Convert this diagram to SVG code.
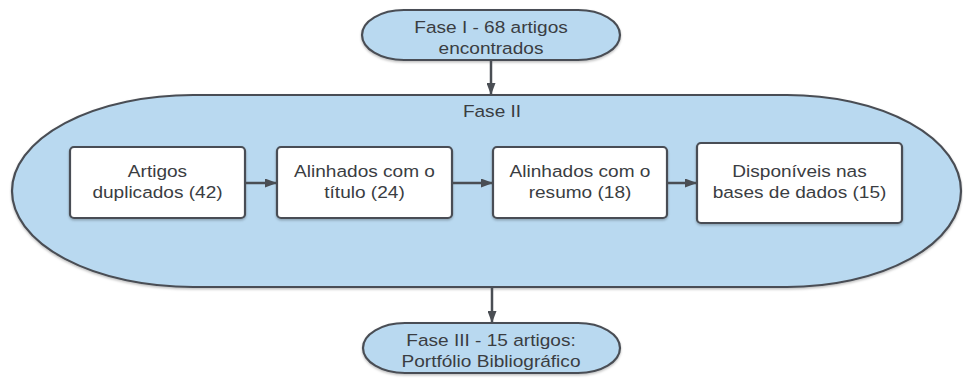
<svg xmlns="http://www.w3.org/2000/svg" width="963" height="378" viewBox="0 0 963 378">
<defs>
<style>
.term{fill:#b9d9f0;stroke:#4a4e54;stroke-width:2.2}
.box{fill:#ffffff;stroke:#4a4e54;stroke-width:2.2}
.lbl{font-family:"Liberation Sans",Arial,sans-serif;font-size:16.3px;fill:#3a3d42;text-anchor:middle}
.conn{stroke:#4a4e54;stroke-width:2.5;fill:none}
</style>
<marker id="ah" markerWidth="12" markerHeight="9" refX="12" refY="4.5" orient="auto" markerUnits="userSpaceOnUse">
<path d="M0 0 L12 4.5 L0 9 Z" fill="#4a4e54"/>
</marker>
<filter id="sh" x="-5%" y="-5%" width="110%" height="120%">
<feDropShadow dx="0" dy="1.5" stdDeviation="1.2" flood-color="#000" flood-opacity="0.25"/>
</filter>
</defs>

<g id="fase1">
<path class="term" filter="url(#sh)" d="M404 10 H578 A42 25 0 0 1 578 60 H404 A42 25 0 0 1 404 10 Z"/>
<text class="lbl" transform="translate(491 0) scale(1.17 1)" x="0" y="33.3">Fase I - 68 artigos</text>
<text class="lbl" transform="translate(491 0) scale(1.17 1)" x="0" y="54.5">encontrados</text>
</g>

<g id="fase2">
<path class="term" filter="url(#sh)" d="M193 95 H787 A174 96 0 0 1 787 287 H193 A181 96 0 0 1 193 95 Z"/>
<text class="lbl" transform="translate(492 0) scale(1.17 1)" x="0" y="117">Fase II</text>
</g>

<g id="box1">
<rect class="box" filter="url(#sh)" x="70" y="147" width="175" height="71" rx="4"/>
<text class="lbl" transform="translate(157.5 0) scale(1.17 1)" x="0" y="177">Artigos</text>
<text class="lbl" transform="translate(157.5 0) scale(1.17 1)" x="0" y="198">duplicados (42)</text>
</g>

<g id="box2">
<rect class="box" filter="url(#sh)" x="277" y="147" width="175" height="71" rx="4"/>
<text class="lbl" transform="translate(364.5 0) scale(1.17 1)" x="0" y="177">Alinhados com o</text>
<text class="lbl" transform="translate(364.5 0) scale(1.17 1)" x="0" y="198">título (24)</text>
</g>

<g id="box3">
<rect class="box" filter="url(#sh)" x="493" y="147" width="174" height="71" rx="4"/>
<text class="lbl" transform="translate(580 0) scale(1.17 1)" x="0" y="177">Alinhados com o</text>
<text class="lbl" transform="translate(580 0) scale(1.17 1)" x="0" y="198">resumo (18)</text>
</g>

<g id="box4">
<rect class="box" filter="url(#sh)" x="697" y="143" width="205" height="80" rx="4"/>
<text class="lbl" transform="translate(799.5 0) scale(1.17 1)" x="0" y="177">Disponíveis nas</text>
<text class="lbl" transform="translate(799.5 0) scale(1.17 1)" x="0" y="198">bases de dados (15)</text>
</g>

<g id="fase3">
<path class="term" filter="url(#sh)" d="M405 323 H578 A42 25 0 0 1 578 373 H405 A42 25 0 0 1 405 323 Z"/>
<text class="lbl" transform="translate(491 0) scale(1.17 1)" x="0" y="346.3">Fase III - 15 artigos:</text>
<text class="lbl" transform="translate(491 0) scale(1.17 1)" x="0" y="367.3">Portfólio Bibliográfico</text>
</g>

<g id="connectors">
<line class="conn" x1="491" y1="60" x2="491" y2="95" marker-end="url(#ah)"/>
<line class="conn" x1="245" y1="183" x2="277" y2="183" marker-end="url(#ah)"/>
<line class="conn" x1="452" y1="183" x2="493" y2="183" marker-end="url(#ah)"/>
<line class="conn" x1="667" y1="183" x2="697" y2="183" marker-end="url(#ah)"/>
<line class="conn" x1="492" y1="287" x2="492" y2="323" marker-end="url(#ah)"/>
</g>
</svg>
